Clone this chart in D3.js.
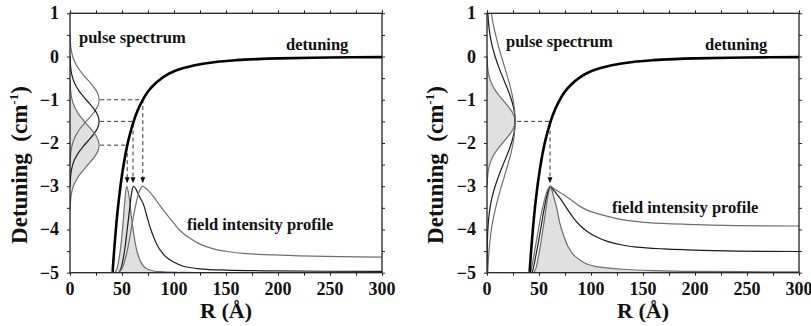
<!DOCTYPE html>
<html><head><meta charset="utf-8">
<script src="https://cdn.jsdelivr.net/npm/d3@7"></script>
<style>body{margin:0;background:#fff}svg{display:block}text{font-family:"Liberation Serif","Times New Roman",serif;font-weight:bold;fill:#111}</style>
</head><body>
<svg id="chart" width="811" height="326"></svg>
<script>
// ---------- data ----------
const xTickValues = [0, 50, 100, 150, 200, 250, 300];
const yTickValues = [1, 0, -1, -2, -3, -4, -5];

// detuning curve (R in Å, detuning in cm^-1)
const detR   = [41, 42, 44, 46, 48, 50, 53, 56, 60, 65, 70, 75, 80, 90, 100, 110, 120, 140, 160, 180, 200, 250, 300];
const detVal = [-4.98, -4.63, -4.03, -3.52, -3.10, -2.74, -2.30, -1.95, -1.59, -1.25, -1.00, -0.81, -0.67, -0.47, -0.34, -0.26, -0.20, -0.125, -0.084, -0.059, -0.043, -0.022, -0.013];

// left panel: pulse spectra (x = amplitude in R units, y = detuning)
const specLeftAmp = [0.1, 0.3, 0.5, 0.9, 1.6, 2.6, 4.1, 6.2, 8.8, 12.0, 15.5, 19.2, 22.6, 25.5, 27.3, 28, 27.3, 25.5, 22.6, 19.2, 15.5, 12.0, 8.8, 6.2, 4.1, 2.6, 1.6, 0.9, 0.5, 0.3, 0.1];
const specLeftDet1 = [0.5, 0.4, 0.3, 0.2, 0.1, 0, -0.1, -0.2, -0.3, -0.4, -0.5, -0.6, -0.7, -0.8, -0.9, -1.0, -1.1, -1.2, -1.3, -1.4, -1.5, -1.6, -1.7, -1.8, -1.9, -2.0, -2.1, -2.2, -2.3, -2.4, -2.5];
const specLeftDet2 = [0, -0.1, -0.2, -0.3, -0.4, -0.5, -0.6, -0.7, -0.8, -0.9, -1.0, -1.1, -1.2, -1.3, -1.4, -1.5, -1.6, -1.7, -1.8, -1.9, -2.0, -2.1, -2.2, -2.3, -2.4, -2.5, -2.6, -2.7, -2.8, -2.9, -3.0];
const specLeftDet3 = [-0.55, -0.65, -0.75, -0.85, -0.95, -1.05, -1.15, -1.25, -1.35, -1.45, -1.55, -1.65, -1.75, -1.85, -1.95, -2.05, -2.15, -2.25, -2.35, -2.45, -2.55, -2.65, -2.75, -2.85, -2.95, -3.05, -3.15, -3.25, -3.35, -3.45, -3.55];

// right panel: pulse spectra, all centred at -1.5
const specRightNarrowDet = [0, -0.1, -0.2, -0.3, -0.4, -0.5, -0.6, -0.7, -0.8, -0.9, -1.0, -1.1, -1.2, -1.3, -1.4, -1.5, -1.6, -1.7, -1.8, -1.9, -2.0, -2.1, -2.2, -2.3, -2.4, -2.5, -2.6, -2.7, -2.8, -2.9, -3.0];
const specRightNarrowAmp = [0.1, 0.3, 0.5, 0.9, 1.5, 2.5, 4.0, 5.9, 8.5, 11.5, 15.0, 18.5, 21.8, 24.6, 26.4, 27, 26.4, 24.6, 21.8, 18.5, 15.0, 11.5, 8.5, 5.9, 4.0, 2.5, 1.5, 0.9, 0.5, 0.3, 0.1];
const specRightWideDet = [1.0, 0.75, 0.5, 0.25, 0, -0.25, -0.5, -0.75, -1.0, -1.25, -1.5, -1.75, -2.0, -2.25, -2.5, -2.75, -3.0, -3.25, -3.5, -3.75, -4.0, -4.25, -4.5, -4.75, -5.0];
const specRightMidAmp  = [0.85, 1.6, 2.9, 4.9, 7.8, 11.4, 15.5, 19.8, 23.5, 26.1, 27, 26.1, 23.5, 19.8, 15.5, 11.4, 7.8, 4.9, 2.9, 1.6, 0.85, 0.4, 0.2, 0.08, 0.03];
const specRightWideAmp = [4.2, 6.0, 8.3, 10.9, 13.9, 17.0, 20.1, 22.9, 25.1, 26.5, 27, 26.5, 25.1, 22.9, 20.1, 17.0, 13.9, 10.9, 8.3, 6.0, 4.2, 2.9, 1.9, 1.2, 0.7];

// left panel: field intensity profiles (plotted on detuning scale, baseline -5, peak -3)
const profLA_R = [43, 45, 47, 49, 51, 52.5, 54.5, 56, 57.5, 59, 61, 63, 65, 68, 72, 78, 90, 120, 300];
const profLA_V = [-5, -4.92, -4.7, -4.35, -3.85, -3.4, -3.0, -3.12, -3.38, -3.7, -4.05, -4.35, -4.55, -4.75, -4.88, -4.95, -4.98, -4.995, -5];
const profLB_R = [47, 49, 51, 53, 55, 57, 59, 61, 63, 66, 70.6, 74, 77, 80, 83.4, 88, 93, 100, 109, 125, 150, 200, 300];
const profLB_V = [-5, -4.9, -4.7, -4.4, -4.0, -3.6, -3.2, -3.0, -3.05, -3.2, -3.42, -3.7, -3.95, -4.15, -4.34, -4.52, -4.65, -4.76, -4.85, -4.91, -4.94, -4.96, -4.97];
const profLC_R = [46, 48, 50, 52, 55, 58, 61, 64, 67, 69.5, 72, 76, 80, 86, 93, 100, 106, 115, 125, 138, 151, 170, 189, 220, 260, 300];
const profLC_V = [-5, -4.97, -4.9, -4.78, -4.5, -4.12, -3.7, -3.35, -3.1, -3.0, -3.03, -3.12, -3.23, -3.43, -3.65, -3.86, -4.03, -4.2, -4.34, -4.45, -4.51, -4.56, -4.58, -4.61, -4.63, -4.64];

// right panel: field intensity profiles
const profRN_R = [45, 47, 49, 51, 53, 55, 56.5, 58, 59.3, 60.6, 62.5, 64.5, 67, 70, 73.4, 78, 83, 89, 96, 105, 115, 130, 160, 200, 300];
const profRN_V = [-5, -4.9, -4.68, -4.42, -4.12, -3.8, -3.55, -3.3, -3.12, -3.0, -3.1, -3.28, -3.5, -3.85, -4.12, -4.4, -4.58, -4.7, -4.8, -4.86, -4.89, -4.92, -4.95, -4.97, -4.98];
const profRM_R = [43.5, 45, 47, 49, 51, 53, 55, 57, 59, 60.6, 63, 66, 70, 75, 83, 90, 96, 105, 115, 130, 144, 170, 192, 240, 300];
const profRM_V = [-5, -4.85, -4.6, -4.35, -4.08, -3.8, -3.52, -3.28, -3.1, -3.0, -3.06, -3.15, -3.27, -3.45, -3.73, -3.92, -4.04, -4.17, -4.27, -4.36, -4.41, -4.45, -4.47, -4.5, -4.51];
const profRW_R = [42, 44, 46, 48, 50, 52, 54, 56, 58, 60.6, 63, 67, 73.4, 80, 89, 98, 109, 120, 134, 155, 192, 240, 300];
const profRW_V = [-5, -4.75, -4.48, -4.2, -3.92, -3.66, -3.44, -3.25, -3.1, -3.0, -3.03, -3.1, -3.19, -3.3, -3.46, -3.57, -3.65, -3.72, -3.79, -3.84, -3.88, -3.91, -3.92];

// dashed guide lines: detuning level, where it meets detuning curve (R), start of dash (R)
const guideLeftLevel = [-1.0, -1.5, -2.05];
const guideLeftR     = [70, 60.6, 55];
const guideRightLevel = [-1.5];
const guideRightR     = [60.6];
const guideStartR = 29;
const guideArrowTip = -2.93;

// ---------- drawing ----------
const svg = d3.select("#chart");
const GRAY = "#6e6e6e", DARK = "#1c1c1c", FILL = "#e0e0e0";

function panel(x0, opts) {
  const x = d3.scaleLinear().domain([0, 300]).range([x0, x0 + 312]);
  const y = d3.scaleLinear().domain([-5, 1]).range([272.7, 13.3]);
  const g = svg.append("g");
  const clipId = "clip" + x0;
  g.append("clipPath").attr("id", clipId).append("rect")
    .attr("x", x(0)).attr("y", y(1)).attr("width", x(300) - x(0)).attr("height", y(-5) - y(1));
  const plot = g.append("g").attr("clip-path", `url(#${clipId})`);

  const spLine = d3.line().curve(d3.curveCatmullRom).x(d => x(d[1])).y(d => y(d[0]));
  const spArea = d3.area().curve(d3.curveCatmullRom).y(d => y(d[0])).x0(x(0)).x1(d => x(d[1]));
  const prLine = d3.line().curve(d3.curveCatmullRom).x(d => x(d[0])).y(d => y(d[1]));
  const prArea = d3.area().curve(d3.curveCatmullRom).x(d => x(d[0])).y0(y(-5)).y1(d => y(d[1]));
  const zip = (a, b) => a.map((v, i) => [v, b[i]]);

  opts.specFill.forEach(s => plot.append("path").attr("d", spArea(zip(s.det, s.amp))).attr("fill", FILL));
  opts.profFill.forEach(s => plot.append("path").attr("d", prArea(zip(s.R, s.V))).attr("fill", FILL));

  opts.spectra.forEach(s => plot.append("path").attr("d", spLine(zip(s.det, s.amp)))
    .attr("fill", "none").attr("stroke", s.c).attr("stroke-width", 1.2));
  opts.profiles.forEach(s => plot.append("path").attr("d", prLine(zip(s.R, s.V)))
    .attr("fill", "none").attr("stroke", s.c).attr("stroke-width", 1.2));

  opts.levels.forEach((lv, i) => {
    const r = opts.levelR[i];
    plot.append("path")
      .attr("d", `M${x(guideStartR)},${y(lv)}H${x(r)}V${y(guideArrowTip) - 5}`)
      .attr("fill", "none").attr("stroke", "#333").attr("stroke-width", 1).attr("stroke-dasharray", "4,3");
    const tx = x(r), ty = y(guideArrowTip);
    plot.append("path").attr("d", `M${tx},${ty}L${tx - 2.5},${ty - 6}L${tx + 2.5},${ty - 6}Z`).attr("fill", "#111");
  });

  plot.append("path").attr("d", prLine(zip(detR, detVal)))
    .attr("fill", "none").attr("stroke", "#000").attr("stroke-width", 2.6);

  g.append("rect").attr("x", x(0)).attr("y", y(1)).attr("width", x(300) - x(0)).attr("height", y(-5) - y(1))
    .attr("fill", "none").attr("stroke", "#222").attr("stroke-width", 1.3);

  const bottom = g.append("g").attr("transform", `translate(0,${y(-5)})`)
    .call(d3.axisBottom(x).tickValues(d3.range(0, 301, 25)).tickSize(3).tickFormat(""));
  const top = g.append("g").attr("transform", `translate(0,${y(1)})`)
    .call(d3.axisTop(x).tickValues(d3.range(0, 301, 25)).tickSize(3).tickFormat(""));
  const left = g.append("g").attr("transform", `translate(${x(0)},0)`)
    .call(d3.axisLeft(y).tickValues(d3.range(-5, 1.01, 0.5)).tickSize(3).tickFormat(""));
  const right = g.append("g").attr("transform", `translate(${x(300)},0)`)
    .call(d3.axisRight(y).tickValues(d3.range(-5, 1.01, 0.5)).tickSize(3).tickFormat(""));
  [bottom, top, left, right].forEach(a => { a.select(".domain").remove(); a.selectAll("line").attr("stroke", "#222"); });

  g.selectAll(".xl").data(xTickValues).join("text")
    .attr("x", d => x(d)).attr("y", 295).attr("text-anchor", "middle").attr("font-size", 18).text(d => d);
  g.selectAll(".yl").data(yTickValues).join("text")
    .attr("x", x(0) - 11).attr("y", d => y(d) + 6).attr("text-anchor", "end").attr("font-size", 18)
    .text(d => d < 0 ? "\u2212" + Math.abs(d) : d);

  const yt = g.append("text").attr("transform", `translate(${opts.ylabX},165) rotate(-90)`)
    .attr("text-anchor", "middle").attr("font-size", 23);
  yt.append("tspan").text("Detuning\u2002(cm");
  yt.append("tspan").attr("dy", -9).attr("font-size", 13).text("-1");
  yt.append("tspan").attr("dy", 9).text(")");
  g.append("text").attr("x", opts.xlabX).attr("y", 318).attr("text-anchor", "middle").attr("font-size", 22).text("R (Å)");

  g.append("text").attr("x", opts.ps[0]).attr("y", opts.ps[1]).attr("font-size", 16.5).text("pulse spectrum");
  g.append("text").attr("x", opts.dt[0]).attr("y", opts.dt[1]).attr("font-size", 16.5).text("detuning");
  g.append("text").attr("x", opts.fi[0]).attr("y", opts.fi[1]).attr("font-size", 16.5).text("field intensity profile");
}

panel(70, {
  specFill: [{det: specLeftDet3, amp: specLeftAmp}],
  profFill: [{R: profLA_R, V: profLA_V}],
  spectra: [
    {det: specLeftDet1, amp: specLeftAmp, c: GRAY},
    {det: specLeftDet2, amp: specLeftAmp, c: DARK},
    {det: specLeftDet3, amp: specLeftAmp, c: GRAY}
  ],
  profiles: [
    {R: profLA_R, V: profLA_V, c: GRAY},
    {R: profLB_R, V: profLB_V, c: DARK},
    {R: profLC_R, V: profLC_V, c: GRAY}
  ],
  levels: guideLeftLevel, levelR: guideLeftR,
  ylabX: 27, xlabX: 226,
  ps: [79, 43], dt: [286, 50], fi: [187, 230]
});

panel(487, {
  specFill: [{det: specRightNarrowDet, amp: specRightNarrowAmp}],
  profFill: [{R: profRN_R, V: profRN_V}],
  spectra: [
    {det: specRightNarrowDet, amp: specRightNarrowAmp, c: GRAY},
    {det: specRightWideDet, amp: specRightMidAmp, c: DARK},
    {det: specRightWideDet, amp: specRightWideAmp, c: GRAY}
  ],
  profiles: [
    {R: profRN_R, V: profRN_V, c: GRAY},
    {R: profRM_R, V: profRM_V, c: DARK},
    {R: profRW_R, V: profRW_V, c: GRAY}
  ],
  levels: guideRightLevel, levelR: guideRightR,
  ylabX: 443, xlabX: 643,
  ps: [506, 47], dt: [705, 50], fi: [612, 213]
});
</script>
</body></html>
